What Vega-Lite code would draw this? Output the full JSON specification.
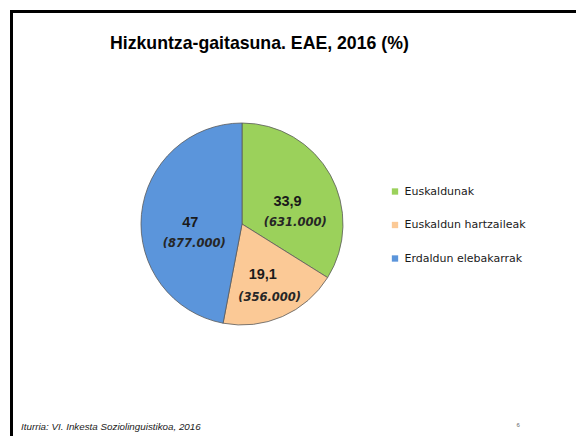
{
  "$schema": "https://vega.github.io/schema/vega-lite/v6.json",
  "autosize": {"type": "pad"},
  "padding": {"left": 8.5, "top": 8.5, "right": 0, "bottom": 0},
  "background": "white",
  "title": {
    "text": "Hizkuntza-gaitasuna. EAE, 2016 (%)",
    "orient": "top",
    "anchor": "start",
    "frame": "group",
    "offset": -57,
    "dx": 98.5,
    "baseline": "alphabetic",
    "font": "Liberation Sans",
    "fontSize": 17.7,
    "fontWeight": "bold",
    "color": "#000000"
  },
  "spacing": 0,
  "bounds": "flush",
  "data": {
    "values": [
      {"cat": "Euskaldunak", "value": 33.9, "label": "33,9", "personak": "(631.000)"},
      {"cat": "Euskaldun hartzaileak", "value": 19.1, "label": "19,1", "personak": "(356.000)"},
      {"cat": "Erdaldun elebakarrak", "value": 47, "label": "47", "personak": "(877.000)"}
    ]
  },
  "hconcat": [
    {
      "width": 461,
      "height": 425,
      "view": {"stroke": "#000000", "strokeWidth": 3, "strokeDash": [461, 886, 425], "strokeCap": "square"},
      "title": {
        "text": "Iturria: VI. Inkesta Soziolinguistikoa, 2016",
        "orient": "bottom",
        "anchor": "start",
        "frame": "group",
        "offset": -6.5,
        "dx": 9.5,
        "baseline": "alphabetic",
        "font": "Liberation Sans",
        "fontSize": 9.8,
        "fontStyle": "italic",
        "fontWeight": "normal",
        "color": "#222222"
      },
      "encoding": {
        "theta": {"field": "value", "type": "quantitative", "stack": true},
        "order": {"field": "cat", "sort": "descending"}
      },
      "layer": [
        {
          "mark": {"type": "arc", "outerRadius": 101, "stroke": "#5a5a5a", "strokeWidth": 0.8},
          "encoding": {
            "color": {
              "field": "cat",
              "type": "nominal",
              "scale": {
                "domain": ["Euskaldunak", "Euskaldun hartzaileak", "Erdaldun elebakarrak"],
                "range": ["#9BD15B", "#FBC996", "#5B95DB"]
              },
              "legend": {
                "orient": "none",
                "legendX": 378,
                "legendY": 174.5,
                "title": null,
                "symbolType": "square",
                "symbolSize": 40,
                "symbolStrokeWidth": 0,
                "labelFont": "DejaVu Sans",
                "labelFontSize": 11,
                "labelColor": "#1a1a1a",
                "labelOffset": 4,
                "rowPadding": 21.5
              }
            }
          }
        },
        {
          "mark": {"type": "text", "radius": 52, "dy": 3.5, "font": "Liberation Sans", "fontSize": 14.5, "fontWeight": "bold", "color": "#1a1a1a"},
          "encoding": {"text": {"field": "label", "type": "nominal"}}
        },
        {
          "mark": {"type": "text", "radius": 54, "dx": 6, "dy": 25, "font": "DejaVu Sans", "fontSize": 11.5, "fontWeight": "bold", "fontStyle": "italic", "color": "#262626"},
          "encoding": {"text": {"field": "personak", "type": "nominal"}}
        }
      ]
    },
    {
      "width": 104,
      "height": 425,
      "view": {"stroke": "#000000", "strokeWidth": 3, "strokeDash": [104, 954], "strokeCap": "square"},
      "title": {
        "text": "6",
        "orient": "bottom",
        "anchor": "start",
        "frame": "group",
        "offset": -10,
        "dx": 44,
        "baseline": "alphabetic",
        "font": "Liberation Sans",
        "fontSize": 6,
        "fontWeight": "normal",
        "color": "#666666"
      },
      "data": {"values": []},
      "mark": {"type": "text"}
    }
  ]
}
